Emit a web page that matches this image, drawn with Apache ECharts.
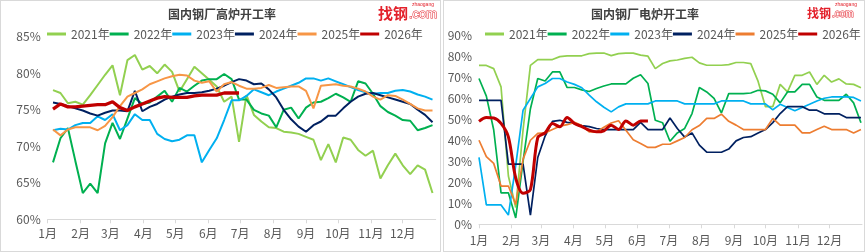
<!DOCTYPE html>
<html>
<head>
<meta charset="utf-8">
<script src="https://cdn.jsdelivr.net/npm/echarts@6/dist/echarts.min.js"></script>
<style>
html, body { margin: 0; padding: 0; background: #fff; }
.panel { position: absolute; top: 0; height: 252px; box-sizing: border-box; box-shadow: inset 0 0 0 1px #d9d9d9; }
#left { left: 0; width: 441px; }
#right { left: 443px; width: 422px; }
</style>
</head>
<body>
<div id="left" class="panel"></div>
<div id="right" class="panel"></div>
<script>
var years = ['2021年', '2022年', '2023年', '2024年', '2025年', '2026年'];

// weekly dates (left: blast furnace, right: electric furnace)
var weeksL = ['01-06','01-13','01-20','01-27','02-03','02-10','02-17','02-24','03-03','03-10','03-17','03-24','03-31',
  '04-07','04-14','04-21','04-28','05-05','05-12','05-19','05-26','06-02','06-09','06-16','06-23','06-30',
  '07-07','07-14','07-21','07-28','08-04','08-11','08-18','08-25','09-01','09-08','09-15','09-22','09-29',
  '10-06','10-13','10-20','10-27','11-03','11-10','11-17','11-24','12-01','12-08','12-15','12-22','12-29'];
var weeksR = ['01-01','01-08','01-15','01-22','01-29','02-05','02-12','02-19','02-26','03-05','03-12','03-19','03-26',
  '04-02','04-09','04-16','04-23','04-30','05-07','05-14','05-21','05-28','06-04','06-11','06-18','06-25',
  '07-02','07-09','07-16','07-23','07-30','08-06','08-13','08-20','08-27','09-03','09-10','09-17','09-24',
  '10-01','10-08','10-15','10-22','10-29','11-05','11-12','11-19','11-26','12-03','12-10','12-17','12-24','12-31'];

// 高炉开工率 (%)
var bf2021 = [77.7,77.3,75.9,76.1,75.7,77.0,78.4,79.8,81.1,77.0,81.8,82.5,80.5,81.0,80.0,81.2,80.2,77.5,79.2,80.9,
  80.0,79.1,78.2,76.1,76.8,70.6,77.0,74.3,73.4,72.6,72.5,72.0,71.9,71.7,71.3,70.9,68.1,70.3,67.8,71.2,
  70.9,69.5,68.7,69.4,65.6,67.4,69.0,67.4,66.2,67.4,66.8,63.6];
var bf2022 = [67.8,71.1,72.5,68.0,63.6,64.9,63.6,70.4,73.2,71.0,73.8,76.6,75.8,76.0,76.8,77.6,76.1,78.0,77.5,78.3,
  79.0,79.2,79.2,79.9,79.2,76.4,76.4,75.0,74.5,74.2,72.6,75.0,75.3,73.8,75.3,76.0,76.1,76.6,77.2,76.7,
  76.1,78.9,78.6,77.2,75.5,74.7,74.2,73.6,73.5,72.2,72.5,72.9];
var bf2023 = [72.2,72.4,72.3,72.9,73.2,73.2,74.1,73.6,74.4,72.2,72.9,74.4,73.6,73.6,71.7,71.0,70.7,70.9,71.5,71.5,
  67.8,69.5,71.1,73.6,76.3,76.3,76.9,77.8,77.4,77.0,77.5,77.9,78.3,78.7,79.3,79.3,79.0,79.3,78.9,78.5,
  78.1,77.7,77.4,77.2,77.3,77.3,77.6,77.7,77.5,77.1,76.8,76.4];
var bf2024 = [76.0,75.8,75.5,75.2,74.9,74.5,74.2,74.6,74.9,74.9,74.8,77.6,74.8,75.4,75.8,76.4,76.8,77.1,77.3,77.3,
  77.4,77.6,77.9,78.3,78.8,79.2,79.0,78.5,78.6,77.8,76.7,75.0,73.7,72.7,72.0,72.9,73.4,74.2,74.2,75.2,
  76.1,76.8,77.2,77.3,77.0,76.7,76.4,76.1,75.8,75.0,74.3,73.3];
var bf2025 = [72.3,71.5,72.3,72.6,72.6,72.6,72.2,72.8,74.0,75.5,76.8,77.3,77.8,78.5,78.9,79.3,79.6,79.8,79.7,79.0,
  78.7,78.9,77.5,78.5,78.8,78.3,77.9,77.9,78.0,78.4,78.0,78.1,78.2,78.2,77.6,75.2,78.3,78.4,78.5,78.3,
  78.2,77.9,77.5,76.8,76.4,77.0,76.9,76.4,75.8,75.2,74.9,74.9];
var bf2026 = [75.1,75.8,75.4,75.4,75.5,75.6,75.7,75.7,76.1,75.3,74.9,75.4,75.8,76.2,76.6,76.8,76.7,76.7,76.7,76.9,
  77.0,77.0,77.0,77.3,77.3,77.3];

// 电炉开工率 (%)
var ef2021 = [75.6,75.6,74.1,65.4,23,8,45,75.6,78.4,78.4,78.4,79.8,80.2,80.2,80.2,81.2,81.5,81.5,80.3,81.2,
  81.5,81.5,80.5,80.0,74.1,76.5,77.8,78.2,79.0,79.5,76.8,75.7,75.7,75.7,76.0,77.0,77.0,76.5,68,56.0,
  56.0,66.6,63.0,70.9,70.9,72.5,66.6,70.9,67.7,69.2,66.8,66.6,65.0];
var ef2022 = [69.4,61,45,15,15,3,30,55,69.4,68.2,72.5,72.5,65.1,65.1,64.0,63.2,64.6,65.8,66.8,66.8,
  66.8,69.5,71.2,67,49.5,48.3,39.5,43.5,45.6,52.7,65.1,63.0,59.9,53.0,62.2,62.2,62.2,62.5,63.8,63.5,
  61.9,57.8,63.0,63.0,66.6,66.6,60.6,59.0,59.0,59.0,61.9,57.8,48.3];
var ef2023 = [31.8,9.2,9.2,9.2,4.4,28,54.3,59.9,65.4,67.0,69.4,69.4,67.7,66.6,65.0,61.5,58.3,55.7,53.5,55.9,
  57.3,57.3,57.3,57.3,58.7,58.7,58.7,58.7,57.3,57.3,57.3,57.3,57.3,58.7,58.7,58.7,58.7,57.3,57.3,57.3,
  54.5,57.1,55.6,54.0,55.6,57.1,58.7,60.0,60.6,60.6,60.6,60.4,58.7];
var ef2024 = [59,59,59,59,28.6,28.6,28.6,4.4,31.8,42,49,49.5,48.5,48,47,46.5,45.6,45.1,45.1,45.1,
  45.1,45.1,48.5,45.1,45.1,45.1,50.6,45.6,41.5,43.5,37.7,34.3,34.3,34.3,35.8,39.7,41.3,41.7,43.5,45.1,
  48.4,52.7,56,56,56,54.3,54.3,52.6,52.6,52.6,50.8,50.8,50.8];
var ef2025 = [40.0,32.2,29.0,18.2,18.2,9.4,31,40.0,43.3,43.5,45.1,46.7,47.4,48.5,47.0,44.0,44.0,46.2,48.2,49.3,
  44.8,40.2,38.5,36.6,36.6,38.1,38.1,39.7,41.3,45.0,47.0,50.4,50.4,52.4,49.0,47.2,45.1,45.1,45.1,45.1,
  50.4,47.2,47.2,47.2,43.5,43.5,45.1,46.7,45.1,45.1,45.1,43.5,45.1];
var ef2026 = [49.0,50.8,50.6,48.0,41.6,22,14.8,16.5,41.3,43.5,48.0,46.4,50.8,48.0,46.5,44.8,44.0,44.5,47.2,45.1,
  49.2,47.2,49.2,49.2];

var font = '"Noto Sans CJK SC", "Microsoft YaHei", sans-serif';
var labelColor = '#595959';

function pairs(weeks, vals) {
    var out = [];
    vals.forEach(function (v, i) {
        out.push(['2026-' + weeks[i], v]);
    });
    return out;
}

function buildOption(cfg) {
    var series = [];
    cfg.data.forEach(function (vals, k) {
        var last = k == 5;
        series.push({
            name: years[k],
            type: 'line',
            data: pairs(cfg.weeks, vals),
            symbol: 'none',
            smooth: last ? cfg.redSmooth : false,
            lineStyle: { color: cfg.colors[k], width: last ? cfg.redWidth : cfg.lineWidth },
            itemStyle: { color: cfg.colors[k] },
            z: last ? 3 : 2
        });
    });
    return {
        animation: false,
        textStyle: { fontFamily: font },
        color: cfg.colors,
        graphic: [
            {
                type: 'text', x: cfg.titleX, y: 14,
                style: { text: cfg.title, fill: '#404040', font: 'bold 12px ' + font, textAlign: 'center', textVerticalAlign: 'middle' }
            },
            {
                type: 'text', x: cfg.logoX, y: 13,
                style: { text: '找钢', fill: '#e3212b', font: 'bold ' + cfg.logoSize + 'px ' + font, textVerticalAlign: 'middle' }
            },
            {
                type: 'text', x: cfg.logoX + cfg.logoSize * 2 + 1, y: 14,
                style: { text: '.com', fill: '#fff', stroke: '#e3212b', lineWidth: 1, font: (cfg.logoSize - 2) + 'px Arial, sans-serif', textVerticalAlign: 'middle' }
            },
            {
                type: 'text', x: cfg.logoX + cfg.logoSize * 2 + 4, y: 5,
                style: { text: 'zhaogang', fill: '#e3212b', font: '5px Arial, sans-serif', textVerticalAlign: 'middle' }
            }
        ],
        legend: {
            data: years,
            left: cfg.legendLeft,
            top: 28,
            width: 390,
            padding: 0,
            icon: 'rect',
            itemWidth: 19,
            itemHeight: 3,
            itemGap: 0,
            textStyle: { color: labelColor, fontSize: 12, fontFamily: font }
        },
        grid: cfg.grid,
        xAxis: {
            type: 'time',
            min: '2026-01-01',
            max: '2027-01-01',
            splitNumber: 12,
            minInterval: 28 * 86400000,
            maxInterval: 31 * 86400000,
            axisLine: { lineStyle: { color: '#d9d9d9' } },
            axisTick: { length: 4, lineStyle: { color: '#d9d9d9' } },
            splitLine: { show: false },
            axisLabel: {
                color: labelColor,
                fontSize: 12,
                margin: cfg.xMargin,
                hideOverlap: false,
                formatter: function (v) {
                    var d = new Date(v);
                    return d.getFullYear() > 2026 ? '' : (d.getMonth() + 1) + '月';
                }
            }
        },
        yAxis: {
            type: 'value',
            min: cfg.yMin,
            max: cfg.yMax,
            interval: cfg.yStep,
            axisLine: { show: false },
            axisTick: { show: false },
            splitLine: { show: false },
            axisLabel: { formatter: '{value}%', color: labelColor, fontSize: 12, margin: 7 }
        },
        series: series
    };
}

var leftChart = echarts.init(document.getElementById('left'));
leftChart.setOption(buildOption({
    title: '国内钢厂高炉开工率',
    titleX: 222,
    logoX: 378,
    logoSize: 15,
    weeks: weeksL,
    data: [bf2021, bf2022, bf2023, bf2024, bf2025, bf2026],
    colors: ['#92D050', '#00B050', '#00B0F0', '#002060', '#F79646', '#C00000'],
    lineWidth: 2,
    redWidth: 3.3,
    redSmooth: false,
    legendLeft: 47,
    grid: { left: 47.7, right: 5.3, top: 36.8, bottom: 32.7 },
    xMargin: 8,
    yMin: 60, yMax: 85, yStep: 5
}));

var rightChart = echarts.init(document.getElementById('right'));
rightChart.setOption(buildOption({
    title: '国内钢厂电炉开工率',
    titleX: 202,
    logoX: 364,
    logoSize: 12,
    weeks: weeksR,
    data: [ef2021, ef2022, ef2023, ef2024, ef2025, ef2026],
    colors: ['#92D050', '#00B050', '#00B0F0', '#002060', '#ED7D31', '#C00000'],
    lineWidth: 1.7,
    redWidth: 3,
    redSmooth: 0.3,
    legendLeft: 42,
    grid: { left: 36, right: 3, top: 35.2, bottom: 27.7 },
    xMargin: 10,
    yMin: 0, yMax: 90, yStep: 10
}));
</script>
</body>
</html>
